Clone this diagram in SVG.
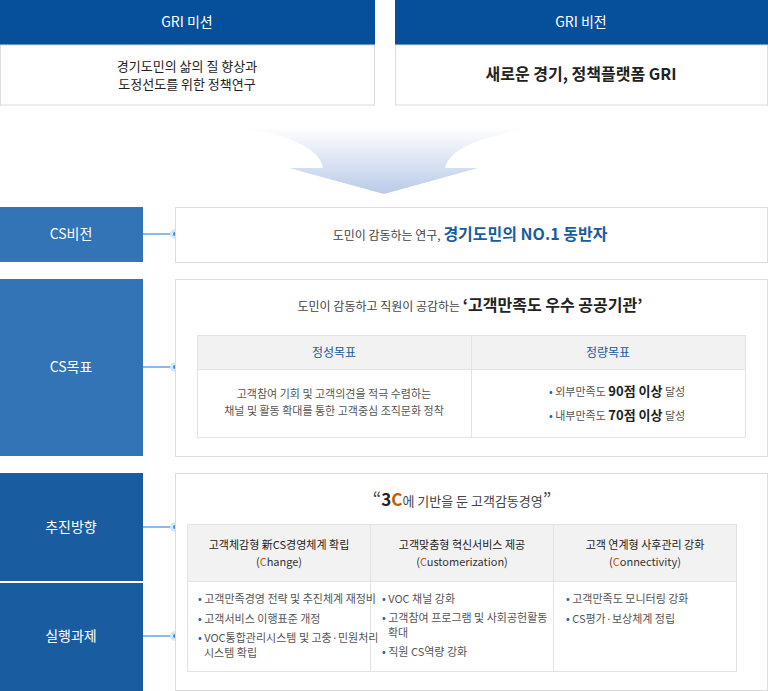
<svg xmlns="http://www.w3.org/2000/svg" width="768" height="691" viewBox="0 0 768 691">
<style>
text{font-family:"Noto Sans CJK KR","Noto Sans",sans-serif;text-anchor:middle}
.hd{fill:#064f9a}
.wb{fill:#fff;stroke:#dcdcdc;stroke-width:1}
.wt{fill:#fff;font-size:14px}
.lb1{fill:#3374b6}
.lb2{fill:#195c9f}
.tb{fill:#fff;stroke:#e3e3e3}
.th{fill:#f2f2f2;stroke:#e3e3e3}
.t{fill:#555;font-size:11px}
.l{fill:#555;font-size:11px;text-anchor:start}
.o{fill:#c65b00}
</style>
<defs>
<linearGradient id="ag" x1="0" y1="0" x2="0" y2="1">
<stop offset="0" stop-color="#fff"/><stop offset="1" stop-color="#b9cae8"/>
</linearGradient>
</defs>
<g id="mission">
<rect class="hd" x="0" y="0" width="375" height="45"/>
<text class="wt" x="187" y="27">GRI 미션</text>
<rect class="wb" x="0.5" y="45" width="374" height="60"/>
<text x="187" y="71" font-size="13" fill="#222">경기도민의 삶의 질 향상과</text>
<text x="187" y="89" font-size="13" fill="#222">도정선도를 위한 정책연구</text>
</g>
<g id="vision">
<rect class="hd" x="395" y="0" width="373" height="45"/>
<text class="wt" x="581" y="27">GRI 비전</text>
<rect class="wb" x="395.5" y="45" width="372" height="60"/>
<text x="581" y="80" font-size="16" font-weight="bold" fill="#222">새로운 경기, 정책플랫폼 GRI</text>
</g>
<path id="arrow" d="M240 127 L540 127 Q450 140 445 168 L478 168 L384 194 L289 168 L323 168 Q318 140 240 127 Z" fill="url(#ag)"/>
<g id="cs-vision-label"><rect class="lb1" x="0" y="207" width="143" height="55"/><text class="wt" x="71" y="239">CS비전</text></g>
<g id="cs-goal-label"><rect class="lb1" x="0" y="279" width="143" height="177"/><text class="wt" x="71" y="372">CS목표</text></g>
<g id="direction-label"><rect class="lb2" x="0" y="473" width="143" height="108"/><text class="wt" x="71" y="532">추진방향</text></g>
<g id="task-label"><rect class="lb2" x="0" y="583" width="143" height="108"/><text class="wt" x="71" y="641">실행과제</text></g>
<g id="connectors" stroke="#3a8ee0" stroke-width="1.2">
<line x1="143" y1="234" x2="175" y2="234"/>
<line x1="143" y1="367" x2="175" y2="367"/>
<line x1="143" y1="527" x2="175" y2="527"/>
<line x1="143" y1="636" x2="175" y2="636"/>
<g stroke="none"><circle cx="175" cy="234" r="5" fill="#d6e6fa"/><circle cx="175" cy="234" r="2" fill="#3a8ee0"/>
<circle cx="175" cy="367" r="5" fill="#d6e6fa"/><circle cx="175" cy="367" r="2" fill="#3a8ee0"/>
<circle cx="175" cy="527" r="5" fill="#d6e6fa"/><circle cx="175" cy="527" r="2" fill="#3a8ee0"/>
<circle cx="175" cy="636" r="5" fill="#d6e6fa"/><circle cx="175" cy="636" r="2" fill="#3a8ee0"/></g>
</g>
<g id="cs-vision">
<rect class="wb" x="175.5" y="207.5" width="592" height="55"/>
<text x="470" y="240" font-size="12" fill="#444">도민이 감동하는 연구, <tspan font-size="16" font-weight="bold" fill="#1a5ba0">경기도민의 NO.1 동반자</tspan></text>
</g>
<g id="cs-goal">
<rect class="wb" x="175.5" y="279.5" width="592" height="177"/>
<text x="470" y="311" font-size="12" fill="#444">도민이 감동하고 직원이 공감하는 <tspan font-size="16" font-weight="bold" fill="#222">‘고객만족도 우수 공공기관’</tspan></text>
<rect class="th" x="197.5" y="335.5" width="274" height="34"/>
<rect class="th" x="471.5" y="335.5" width="274" height="34"/>
<rect class="tb" x="197.5" y="369.5" width="274" height="68"/>
<rect class="tb" x="471.5" y="369.5" width="274" height="68"/>
<text x="334" y="357" font-size="12" fill="#1a5ba0">정성목표</text>
<text x="608" y="357" font-size="12" fill="#1a5ba0">정량목표</text>
<text class="t" x="334" y="398">고객참여 기회 및 고객의견을 적극 수렴하는</text>
<text class="t" x="334" y="415">채널 및 활동 확대를 통한 고객중심 조직문화 정착</text>
<text class="l" x="549" y="396"><tspan fill="#2a5ea8">•  </tspan>외부만족도 <tspan font-size="13" font-weight="bold" fill="#222">90점 이상</tspan> 달성</text>
<text class="l" x="549" y="420"><tspan fill="#2a5ea8">•  </tspan>내부만족도 <tspan font-size="13" font-weight="bold" fill="#222">70점 이상</tspan> 달성</text>
</g>
<g id="three-c">
<rect class="wb" x="175.5" y="473.5" width="592" height="217"/>
<text x="462" y="506" font-size="13" fill="#444"><tspan font-size="18">“</tspan><tspan font-size="17" font-weight="bold" fill="#222">3</tspan><tspan font-size="17" font-weight="bold" class="o">C</tspan>에 기반을 둔 고객감동경영<tspan font-size="18">”</tspan></text>
<rect class="th" x="187.5" y="524.5" width="183" height="57"/>
<rect class="th" x="370.5" y="524.5" width="183" height="57"/>
<rect class="th" x="553.5" y="524.5" width="183" height="57"/>
<rect class="tb" x="187.5" y="581.5" width="183" height="90"/>
<rect class="tb" x="370.5" y="581.5" width="183" height="90"/>
<rect class="tb" x="553.5" y="581.5" width="183" height="90"/>
<text x="279" y="549" font-size="11" fill="#222">고객체감형 新CS경영체계 확립</text>
<text x="279" y="566" font-size="11" fill="#333">(<tspan class="o">C</tspan>hange)</text>
<text x="462" y="549" font-size="11" fill="#222">고객맞춤형 혁신서비스 제공</text>
<text x="462" y="566" font-size="11" fill="#333">(<tspan class="o">C</tspan>ustomerization)</text>
<text x="645" y="549" font-size="11" fill="#222">고객 연계형 사후관리 강화</text>
<text x="645" y="566" font-size="11" fill="#333">(<tspan class="o">C</tspan>onnectivity)</text>
<text class="l" x="198" y="603" font-size="10"><tspan fill="#2a5ea8">• </tspan>고객만족경영 전략 및 추진체계 재정비</text>
<text class="l" x="198" y="623" font-size="10"><tspan fill="#2a5ea8">• </tspan>고객서비스 이행표준 개정</text>
<text class="l" x="198" y="642" font-size="10"><tspan fill="#2a5ea8">• </tspan>VOC통합관리시스템 및 고충·민원처리</text>
<text class="l" x="204" y="657" font-size="10">시스템 확립</text>
<text class="l" x="382" y="603" font-size="10"><tspan fill="#2a5ea8">• </tspan>VOC 채널 강화</text>
<text class="l" x="382" y="622" font-size="10"><tspan fill="#2a5ea8">• </tspan>고객참여 프로그램 및 사회공헌활동</text>
<text class="l" x="388" y="637" font-size="10">확대</text>
<text class="l" x="382" y="656" font-size="10"><tspan fill="#2a5ea8">• </tspan>직원 CS역량 강화</text>
<text class="l" x="566" y="603" font-size="10"><tspan fill="#2a5ea8">• </tspan>고객만족도 모니터링 강화</text>
<text class="l" x="566" y="623" font-size="10"><tspan fill="#2a5ea8">• </tspan>CS평가·보상체계 정립</text>
</g>
</svg>
